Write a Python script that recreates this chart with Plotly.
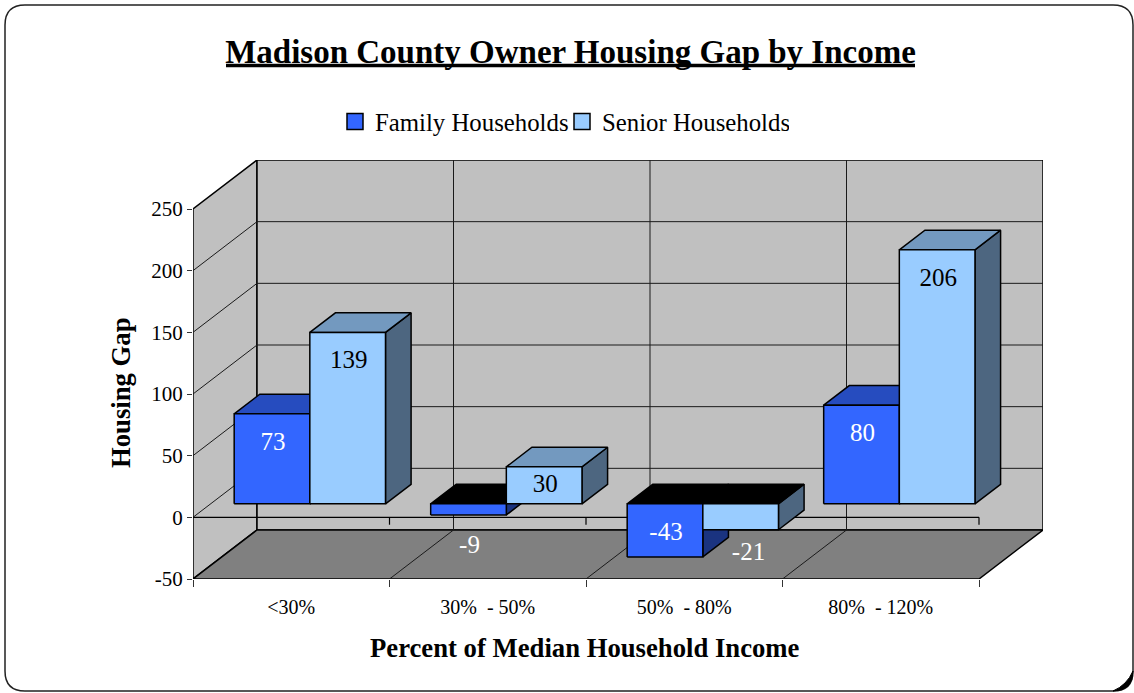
import plotly.graph_objects as go

# ---- data ----
categories = ["<30%", "30%  - 50%", "50%  - 80%", "80%  - 120%"]
family_values = [73, -9, -43, 80]
senior_values = [139, 30, -21, 206]
value_ticks = [-50, 0, 50, 100, 150, 200, 250]

# ---- palette ----
FAMILY = dict(front="#3366FF", top="#264CBF", side="#1A3380", text="white")
SENIOR = dict(front="#99CCFF", top="#7399BF", side="#4D6680", text="black")
WALL, FLOOR = "#C0C0C0", "#808080"
SERIF = "Liberation Serif"

# ---- pseudo-3D geometry, in axis units ----
W, H = 1134, 693
L, R, T, B = 193, 1043, 160, 579         # plot box in pixels
UX = 196.5                               # pixels per category
UY = 370 / 300                           # pixels per value unit
DX, DY = 64 / UX, 49 / UY                # full chart depth
Y_MIN, Y_MAX = -50, -50 + (B - T) / UY
X_MAX = (R - L) / UX
N = len(categories)
BAR_GAP, BAR_W = 0.12, 0.385
D_FRONT, D_BACK = 0.275, 0.675


def proj(x, y, d=0.0):
    return x + DX * d, y + DY * d


def poly(points):
    xs, ys = zip(*points)
    return list(xs) + [xs[0], None], list(ys) + [ys[0], None]


def merge(polys):
    xs, ys = [], []
    for p in polys:
        a, b = poly(p)
        xs += a
        ys += b
    return xs, ys


def area(fig, polys, fill, lw=1.5, line="black"):
    if not polys:
        return
    xs, ys = merge(polys)
    fig.add_trace(go.Scatter(x=xs, y=ys, mode="lines", fill="toself", fillcolor=fill,
                             line=dict(color=line, width=lw), showlegend=False,
                             hoverinfo="skip"))


def segs(fig, pairs, lw=1.0, color="#1a1a1a"):
    xs, ys = [], []
    for (a, b) in pairs:
        xs += [a[0], b[0], None]
        ys += [a[1], b[1], None]
    fig.add_trace(go.Scatter(x=xs, y=ys, mode="lines", line=dict(color=color, width=lw),
                             showlegend=False, hoverinfo="skip"))


def px(x):
    return (x - L) / (R - L)


def py(y):
    return (B - y) / (B - T)


fig = go.Figure()

# walls and floor
area(fig, [[proj(0, Y_MIN), proj(0, 250), proj(0, 250, 1), proj(0, Y_MIN, 1)]], WALL)
area(fig, [[proj(0, Y_MIN, 1), proj(0, 250, 1), proj(N, 250, 1), proj(N, Y_MIN, 1)]], WALL)
area(fig, [[proj(0, Y_MIN), proj(0, Y_MIN, 1), proj(N, Y_MIN, 1), proj(N, Y_MIN)]], FLOOR)

# gridlines
grid = [(proj(0, v), proj(0, v, 1)) for v in value_ticks[1:-1]]
grid += [(proj(0, v, 1), proj(N, v, 1)) for v in value_ticks[1:-1]]
grid += [(proj(i, Y_MIN, 1), proj(i, 250, 1)) for i in range(1, N)]
grid += [(proj(i, Y_MIN), proj(i, Y_MIN, 1)) for i in range(1, N)]
segs(fig, grid)

# category axis line at zero, on the front plane
base = [(proj(0, 0), proj(N, 0))]
base += [(proj(i, 0), proj(i, -6)) for i in range(1, N + 1)]
segs(fig, base, lw=1.2, color="black")


# bars
def draw_series(values, offset, c):
    sides, tops, dark_tops, fronts = [], [], [], []
    for i, v in enumerate(values):
        x0 = i + BAR_GAP + offset * BAR_W
        x1 = x0 + BAR_W
        hi, lo = max(v, 0), min(v, 0)
        fronts.append([proj(x0, lo, D_FRONT), proj(x0, hi, D_FRONT),
                       proj(x1, hi, D_FRONT), proj(x1, lo, D_FRONT)])
        top = [proj(x0, hi, D_FRONT), proj(x0, hi, D_BACK),
               proj(x1, hi, D_BACK), proj(x1, hi, D_FRONT)]
        (dark_tops if v < 0 else tops).append(top)
        sides.append([proj(x1, lo, D_FRONT), proj(x1, hi, D_FRONT),
                      proj(x1, hi, D_BACK), proj(x1, lo, D_BACK)])
    area(fig, sides, c["side"])
    area(fig, tops, c["top"])
    area(fig, dark_tops, "black")
    area(fig, fronts, c["front"])


draw_series(family_values, 0, FAMILY)
draw_series(senior_values, 1, SENIOR)


# value labels
def label_y(v):
    if v >= 40:
        return v - 24
    if v >= 0:
        return v / 2
    if v > -30:
        return v / 2 - 30
    return v / 2 - 3


for values, offset, c in [(family_values, 0, FAMILY), (senior_values, 1, SENIOR)]:
    xs, ys, colors = [], [], []
    for i, v in enumerate(values):
        nudge = 0.04 if (offset and v < 0) else 0.005
        x, y = proj(i + BAR_GAP + (offset + 0.5) * BAR_W + nudge, label_y(v), D_FRONT)
        xs.append(x)
        ys.append(y)
        colors.append("white" if v < 0 else c["text"])
    fig.add_trace(go.Scatter(x=xs, y=ys, mode="text", text=[str(v) for v in values],
                             textposition="middle center", showlegend=False,
                             textfont=dict(family=SERIF, size=25, color=colors),
                             hoverinfo="skip"))

# legend entries
for name, c in [("Family Households", FAMILY), ("Senior Households", SENIOR)]:
    fig.add_trace(go.Scatter(x=[None], y=[None], mode="markers", name=name,
                             marker=dict(symbol="square", size=16, color=c["front"],
                                         line=dict(color="black", width=1.5))))

# frame
fx0, fx1, fy0, fy1, r = 5, 1133, 5, 691, 20
frame = (f"M {px(fx0 + r)} {py(fy0)} L {px(fx1 - r)} {py(fy0)} "
         f"Q {px(fx1)} {py(fy0)} {px(fx1)} {py(fy0 + r)} L {px(fx1)} {py(fy1 - r)} "
         f"Q {px(fx1)} {py(fy1)} {px(fx1 - r)} {py(fy1)} L {px(fx0 + r)} {py(fy1)} "
         f"Q {px(fx0)} {py(fy1)} {px(fx0)} {py(fy1 - r)} L {px(fx0)} {py(fy0 + r)} "
         f"Q {px(fx0)} {py(fy0)} {px(fx0 + r)} {py(fy0)} Z")
corner = (f"M {px(fx1)} {py(fy1 - r)} Q {px(fx1)} {py(fy1)} {px(fx1 - r)} {py(fy1)} "
          f"Q {px(fx1 - 6)} {py(fy1 - 6)} {px(fx1)} {py(fy1 - r)} Z")
shapes = [
    dict(type="path", xref="paper", yref="paper", path=frame, layer="below",
         line=dict(color="#222222", width=1.5)),
    dict(type="path", xref="paper", yref="paper", path=corner, layer="below",
         fillcolor="black", line=dict(color="black", width=1)),
    dict(type="line", xref="paper", yref="paper", x0=px(226), x1=px(915), y0=py(65.5), y1=py(65.5),
         line=dict(color="black", width=3.5)),
]

annotations = [
    dict(text="<b>Percent of Median Household Income</b>", x=px(585), y=py(648), xref="paper", yref="paper",
         showarrow=False, font=dict(family=SERIF, size=26.7, color="black"), xanchor="center", yanchor="middle"),
    dict(text="<b>Housing Gap</b>", x=px(121), y=py(393), xref="paper", yref="paper", textangle=-90,
         showarrow=False, font=dict(family=SERIF, size=26.7, color="black"), xanchor="center", yanchor="middle"),
]

fig.update_layout(
    width=W, height=H, autosize=False,
    margin=dict(l=L, r=W - R, t=T, b=H - B, pad=0),
    paper_bgcolor="white", plot_bgcolor="white",
    title=dict(text="<b>Madison County Owner Housing Gap by Income</b>", x=570.5 / W, xanchor="center",
               y=1 - 51 / H, yanchor="middle",
               font=dict(family=SERIF, size=33, color="black")),
    legend=dict(orientation="h", x=px(335), xanchor="left", y=py(122), yanchor="middle",
                font=dict(family=SERIF, size=24.8, color="black"), itemsizing="trace",
                itemwidth=30, entrywidth=182, entrywidthmode="pixels",
                bgcolor="rgba(0,0,0,0)", traceorder="normal"),
    shapes=shapes, annotations=annotations,
    xaxis=dict(range=[0, X_MAX], showgrid=False, zeroline=False, showline=False,
               tickmode="array", tickvals=[i + 0.5 for i in range(N)], ticktext=categories,
               ticks="outside", ticklen=10, tickcolor="rgba(0,0,0,0)",
               minor=dict(tickmode="array", tickvals=list(range(N + 1)), ticks="outside", ticklen=7,
                          tickcolor="#333333", tickwidth=1, showgrid=False),
               tickfont=dict(family=SERIF, size=20, color="black"), fixedrange=True),
    yaxis=dict(range=[Y_MIN, Y_MAX], showgrid=False, zeroline=False, showline=False,
               tickmode="array", tickvals=value_ticks, ticktext=[str(v) for v in value_ticks],
               ticks="outside", ticklen=5, tickcolor="#333333", tickwidth=1,
               tickfont=dict(family=SERIF, size=21, color="black"), fixedrange=True),
)

fig.write_html("out.html", post_script="document.body.style.margin='0';", config={"displayModeBar": False})
